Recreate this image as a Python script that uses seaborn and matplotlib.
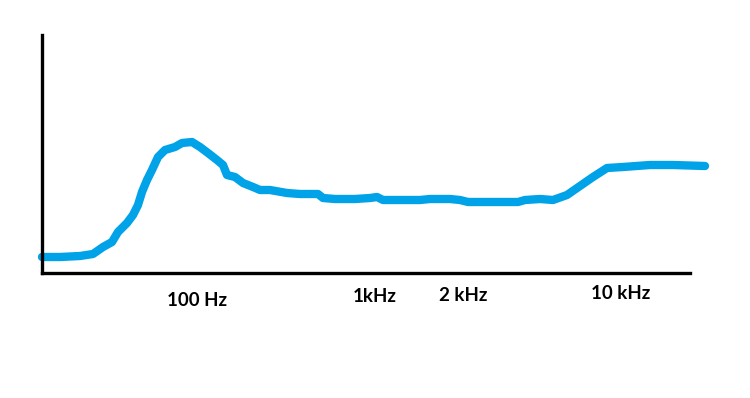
import matplotlib
matplotlib.use("Agg")
import matplotlib.pyplot as plt
import matplotlib.transforms as mtransforms
import seaborn as sns
import pandas as pd

# Curve (arbitrary units: x along axis, y above baseline)
freq_pos = [0, 18, 38, 51, 61, 70, 76, 85, 91, 96, 100, 105, 110, 116, 123,
            133, 140, 150, 158, 166, 175, 181, 185, 193, 201, 211, 218, 228,
            245, 258, 276, 281, 293, 313, 328, 335, 341, 358, 378, 388, 408,
            418, 426, 448, 476, 483, 498, 511, 525, 538, 551, 565, 581, 608,
            631, 663]
level = [16, 16, 17, 19, 26, 31, 41, 50, 58, 68, 81, 93, 103, 116, 123,
         126, 130, 131, 126, 120, 113, 108, 98, 96, 90, 86, 83, 83,
         80, 79, 79, 75, 74, 74, 75, 76, 73, 73, 73, 74, 74,
         73, 71, 71, 71, 73, 74, 73, 78, 87, 96, 105, 106, 108,
         108, 107]

tick_pos = [155, 333, 421, 579]
tick_labels = ["100 Hz", "1kHz", "2 kHz", "10 kHz"]
tick_y = [-0.115, -0.10, -0.095, -0.087]

sns.set_style("white")
plt.rcParams['font.family'] = ['Lato', 'DejaVu Sans']

fig = plt.figure(figsize=(7.5, 3.98), dpi=100)
ax = fig.add_axes([42 / 750, 125 / 398, 648 / 750, 238 / 398])

df = pd.DataFrame({"x": freq_pos, "y": level})
sns.lineplot(data=df, x="x", y="y", ax=ax, color="#00a2e8", linewidth=6,
             solid_capstyle="round", solid_joinstyle="round", clip_on=False)

ax.set_xlim(0, 648)
ax.set_ylim(0, 238)
ax.set_xticks([])
ax.set_yticks([])
ax.set_xlabel("")
ax.set_ylabel("")
for s in ["top", "right"]:
    ax.spines[s].set_visible(False)
for s in ["left", "bottom"]:
    ax.spines[s].set_color("black")
    ax.spines[s].set_linewidth(2.4)

trans = mtransforms.blended_transform_factory(ax.transData, ax.transAxes)
for xp, lab, yy in zip(tick_pos, tick_labels, tick_y):
    ax.text(xp, yy, lab, transform=trans, ha="center", va="center",
            fontsize=13.5, fontweight="bold", color="black")

fig.savefig("out.png", dpi=100)
